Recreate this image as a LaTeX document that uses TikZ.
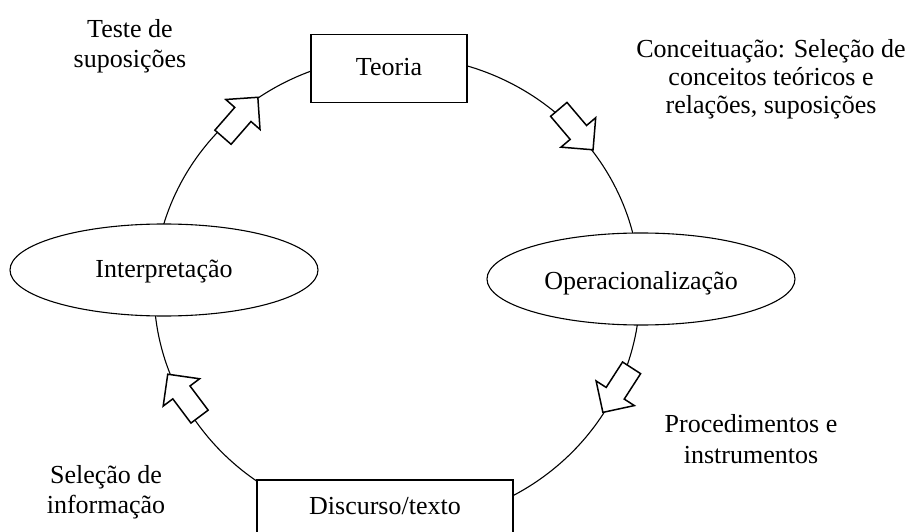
\documentclass[tikz,border=0pt]{standalone}
\usepackage{fontspec}
\setmainfont{Liberation Serif}
\usetikzlibrary{shapes.geometric,shapes.arrows}
\begin{document}
\begin{tikzpicture}[x=1pt,y=-1pt,
  lbl/.style={anchor=base, inner sep=0pt},
  rectbox/.style={draw, line width=1.5pt, fill=white, inner xsep=0pt, anchor=north,
    font=\fontsize{26}{30}\selectfont},
  ellbox/.style={ellipse, draw, line width=1.1pt, fill=white, inner sep=0pt,
    minimum width=308pt, minimum height=92pt, font=\fontsize{26}{30}\selectfont},
  flow/.style={single arrow, draw, fill=white, line width=1.5pt,
    text height=10pt, text depth=10pt, text width=0pt,
    single arrow head extend=12pt, single arrow tip angle=90, minimum height=53pt,
    inner sep=0pt, anchor=tail},
  cycleline/.style={line width=1.1pt},
]
\useasboundingbox (0,0) rectangle (906,532);
\clip (0,0) rectangle (906,532);
\fill[white] (0,0) rectangle (906,532);

% the cycle
\coordinate (c) at (397,290);
\draw[cycleline] (c) ellipse [x radius=243pt, y radius=234pt];

% stages
\node[rectbox, minimum width=156pt, text height=17.8pt, text depth=5.2pt, inner ysep=22.5pt]
  (teoria) at (389,34) {Teoria};
\node[rectbox, minimum width=256pt, text height=17.8pt, text depth=30pt, inner ysep=17.2pt]
  (discurso) at (385,479) {Discurso/texto};
\node[ellbox, text height=20.6pt, text depth=5.6pt] (interp) at (164,270) {Interpretação};
\node[ellbox, text height=25.8pt, text depth=5.6pt] (oper) at (641,279) {Operacionalização};

% direction arrows
\node[flow, rotate=-49.7] (a1) at (558.3,108.8) {};
\node[flow, rotate=-122.8] (a2) at (632,367.2) {};
\node[flow, rotate=126.9] (a3) at (200,417.2) {};
\node[flow, rotate=48.9] (a4) at (222.5,137.8) {};

% labels
\node[lbl, font=\fontsize{26}{30}\selectfont] (teste) at (130,38)
  {\begin{tabular}[t]{@{}c@{}}Teste de\\suposições\end{tabular}};
\node[lbl, font=\fontsize{26}{27.7}\selectfont] (conc) at (771,58)
  {\begin{tabular}[t]{@{}c@{}}Conceituação: Seleção de\\conceitos teóricos e\\relações, suposições\end{tabular}};
\node[lbl, font=\fontsize{26}{31}\selectfont] (proc) at (751,432.3)
  {\begin{tabular}[t]{@{}c@{}}Procedimentos e\\instrumentos\end{tabular}};
\node[lbl, font=\fontsize{26}{30}\selectfont] (selec) at (106,483)
  {\begin{tabular}[t]{@{}c@{}}Seleção de\\informação\end{tabular}};
\end{tikzpicture}
\end{document}
